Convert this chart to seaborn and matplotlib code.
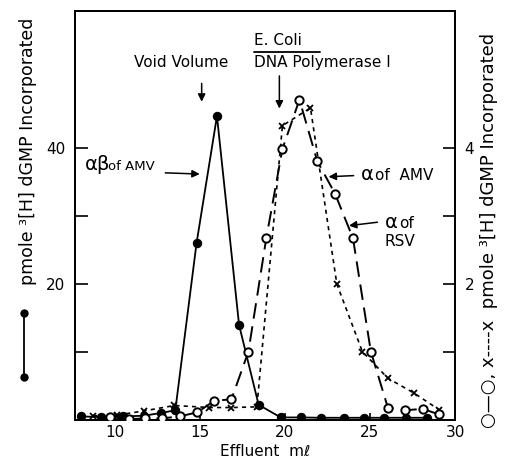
import numpy as np
import matplotlib
matplotlib.use("Agg")
import matplotlib.pyplot as plt
import seaborn as sns
from matplotlib.lines import Line2D

# alpha-beta of AMV, left axis (pmole)
amv_ab_ml = [8.0, 9.2, 10.5, 11.7, 12.7, 13.55, 14.8, 16.0, 17.3, 18.45,
             19.75, 20.95, 22.1, 23.5, 24.65, 25.85, 27.1, 28.35]
amv_ab_pmol = [0.6, 0.5, 0.6, 0.7, 1.1, 1.5, 26.0, 44.6, 14.0, 2.3,
               0.45, 0.45, 0.4, 0.4, 0.4, 0.4, 0.4, 0.4]

# alpha of RSV (open circles), right axis
rsv_ml = [9.7, 10.8, 11.75, 12.75, 13.8, 14.85, 15.85, 16.85, 17.85, 18.9,
          19.85, 20.85, 21.9, 22.95, 24.0, 25.05, 26.05, 27.05, 28.1, 29.05]
rsv_pmol = [0.05, 0.02, 0.03, 0.03, 0.06, 0.12, 0.29, 0.31, 1.01, 2.67,
            3.98, 4.70, 3.80, 3.32, 2.67, 1.01, 0.19, 0.15, 0.17, 0.09]

# alpha of AMV (crosses), right axis
amv_a_ml = [8.7, 10.15, 11.7, 13.5, 15.55, 16.85, 18.35, 19.85, 21.5,
            23.05, 24.55, 26.05, 27.6, 29.05]
amv_a_pmol = [0.07, 0.08, 0.14, 0.22, 0.19, 0.19, 0.20, 4.32, 4.58,
              2.0, 1.01, 0.62, 0.40, 0.16]

xticks = [10, 15, 20, 25, 30]
left_ticks = [10, 20, 30, 40]
left_labels = ["", "20", "", "40"]
right_ticks = [1, 2, 3, 4]
right_labels = ["", "2", "", "4"]

sns.set_style("ticks")
plt.rcParams["font.family"] = ["DejaVu Sans"]
plt.rcParams.update({"font.size": 11, "text.color": "black",
                     "axes.labelcolor": "black", "axes.edgecolor": "black",
                     "xtick.color": "black", "ytick.color": "black"})

fig = plt.figure(figsize=(5.05, 4.65), dpi=100)
ax = fig.add_axes([0.1485, 0.0957, 0.7525, 0.8806])
ax2 = ax.twinx()

sns.lineplot(x=amv_ab_ml, y=amv_ab_pmol, ax=ax, color="black", lw=1.3,
             marker="o", markersize=6, markeredgecolor="black", zorder=3)
sns.lineplot(x=amv_a_ml, y=amv_a_pmol, ax=ax2, color="black", lw=1.2,
             linestyle=(0, (2.5, 2.5)), marker="x", markersize=5,
             markeredgecolor="black", mew=1.3, zorder=2)
sns.lineplot(x=rsv_ml, y=rsv_pmol, ax=ax2, color="black", lw=1.4,
             linestyle=(0, (8, 4)), marker="o", markersize=6,
             markerfacecolor="white", markeredgecolor="black", mew=1.4, zorder=4)

ax.set_xlim(7.65, 30)
ax.set_ylim(0, 60)
ax2.set_ylim(0, 6)
ax.set_xticks(xticks)
ax.set_yticks(left_ticks)
ax.set_yticklabels(left_labels)
ax2.set_yticks(right_ticks)
ax2.set_yticklabels(right_labels)
ax.tick_params(axis="both", direction="in", length=9, width=1.2, pad=7)
ax.tick_params(axis="x", length=5, pad=3)
ax2.tick_params(axis="y", direction="in", length=9, width=1.2, pad=7)
for a in (ax, ax2):
    for s in a.spines.values():
        s.set_linewidth(1.3)
ax.set_xlabel("Effluent  mℓ", fontsize=11, labelpad=3)
ax.set_ylabel("")
ax2.set_ylabel("")

# annotations
ax.text(13.87, 52.5, "Void Volume", ha="center", va="center")
ax.annotate("", xy=(15.1, 46.3), xytext=(15.1, 49.8),
            arrowprops=dict(arrowstyle="-|>", color="black", lw=1.1))
ax.text(18.2, 55.7, "E. Coli", ha="left", va="center")
ax.plot([18.2, 22.05], [54.0, 54.0], color="black", lw=1.3, clip_on=False)
ax.text(18.2, 52.5, "DNA Polymerase I", ha="left", va="center")
ax.annotate("", xy=(19.67, 45.3), xytext=(19.67, 50.9),
            arrowprops=dict(arrowstyle="-|>", color="black", lw=1.1))

ax.text(8.25, 36.7, "αβ", ha="left", va="baseline", fontsize=14)
ax.text(9.6, 36.7, "of AMV", ha="left", va="baseline", fontsize=9.5)
ax.annotate("", xy=(15.15, 36.1), xytext=(12.8, 36.3),
            arrowprops=dict(arrowstyle="-|>", color="black", lw=1.1))

ax.text(24.45, 35.2, "α", ha="left", va="baseline", fontsize=14)
ax.text(25.3, 35.2, "of  AMV", ha="left", va="baseline", fontsize=11)
ax.annotate("", xy=(22.4, 35.7), xytext=(24.2, 35.9),
            arrowprops=dict(arrowstyle="-|>", color="black", lw=1.1))

ax.text(25.85, 28.2, "α", ha="left", va="baseline", fontsize=14)
ax.text(26.7, 28.2, "of", ha="left", va="baseline", fontsize=11)
ax.text(25.85, 25.6, "RSV", ha="left", va="baseline", fontsize=11)
ax.annotate("", xy=(23.6, 28.5), xytext=(25.6, 29.1),
            arrowprops=dict(arrowstyle="-|>", color="black", lw=1.1))

# axis labels with symbol keys
fig.text(0.055, 0.675, "pmole ³[H] dGMP Incorporated", rotation=90,
         ha="center", va="center", fontsize=12.5)
fig.add_artist(Line2D([0.047, 0.047], [1 - 313 / 465, 1 - 377 / 465],
                      color="black", lw=1.3, marker="o", markersize=5,
                      transform=fig.transFigure))
fig.text(0.968, 0.505, "○—○, x----x  pmole ³[H] dGMP Incorporated",
         rotation=90, ha="center", va="center", fontsize=13)

fig.savefig("out.png", dpi=100)
